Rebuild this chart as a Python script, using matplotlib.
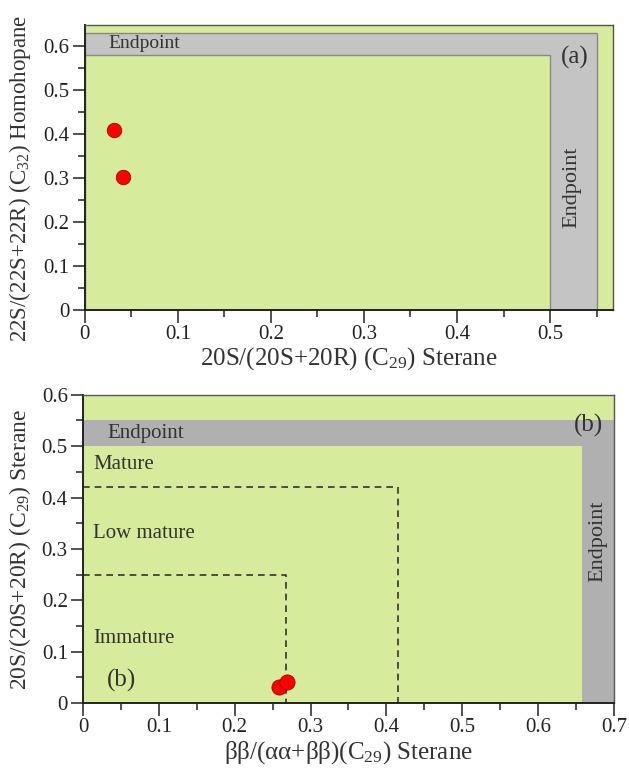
import matplotlib
matplotlib.use("Agg")
import matplotlib.pyplot as plt
from matplotlib.patches import Rectangle

# panel (a) data
a_x = [0.031, 0.041]
a_y = [0.408, 0.302]
# endpoint band of panel (a): inner corner and outer corner
a_inner = (0.50, 0.58)
a_outer = (0.55, 0.63)

# panel (b) data
b_x = [0.259, 0.269]
b_y = [0.032, 0.041]
b_inner = (0.658, 0.50)
b_outer = (0.70, 0.55)
# maturity limits (x, y) for dashed boxes
b_limits = [(0.268, 0.25), (0.415, 0.42)]
b_zones = ["Immature", "Low mature", "Mature"]
b_zone_y = [0.125, 0.33, 0.465]

GREEN = "#d6eb9b"
TXT = "#333333"

plt.rcParams["font.family"] = ["Liberation Serif", "DejaVu Serif"]
plt.rcParams["mathtext.fontset"] = "stix"

fig = plt.figure(figsize=(6.29, 7.71), dpi=100)
ax1 = fig.add_axes([0.135, 0.598, 0.840, 0.370])
ax2 = fig.add_axes([0.132, 0.088, 0.844, 0.400])


def style_axes(ax, xmax, ymax, xticks, yticks):
    ax.set_facecolor(GREEN)
    ax.set_xlim(0, xmax)
    ax.set_ylim(0, ymax)
    ax.set_xticks(xticks)
    ax.set_yticks(yticks)
    ax.set_xticklabels(["0" if t == 0 else f"{t:g}" for t in xticks])
    ax.set_yticklabels(["0" if t == 0 else f"{t:g}" for t in yticks])
    ax.set_xticks([t + 0.05 for t in xticks if t + 0.05 < xmax], minor=True)
    ax.set_yticks([t + 0.05 for t in yticks if t + 0.05 < ymax], minor=True)
    ax.tick_params(which="major", direction="out", length=9, width=1.2, pad=2,
                   labelsize=15, color="#333333", labelcolor="#222222")
    ax.tick_params(which="minor", direction="out", length=5, width=1.2, color="#333333")
    for s in ["left", "bottom"]:
        ax.spines[s].set_linewidth(1.4)
        ax.spines[s].set_color("#222222")
    for s in ["top", "right"]:
        ax.spines[s].set_linewidth(1.0)
        ax.spines[s].set_color("#555555")


# ---- panel (a)
style_axes(ax1, 0.568, 0.648, [0, 0.1, 0.2, 0.3, 0.4, 0.5], [0, 0.1, 0.2, 0.3, 0.4, 0.5, 0.6])
ax1.add_patch(Rectangle((0, 0), a_outer[0], a_outer[1], facecolor="#c4c4c4",
                        edgecolor="#888888", lw=1.0, zorder=1))
ax1.add_patch(Rectangle((0, 0), a_inner[0], a_inner[1], facecolor=GREEN,
                        edgecolor="#888888", lw=1.0, zorder=1))
ax1.scatter(a_x, a_y, s=110, c="red", edgecolors="#8b0000", linewidths=0.5, zorder=3)
ax1.text(0.025, 0.605, "Endpoint", fontsize=14, color=TXT, va="center")
ax1.text(0.5235, 0.278, "Endpoint", fontsize=16, color=TXT, va="center",
         ha="center", rotation=90)
ax1.text(0.527, 0.574, "(a)", fontsize=18, color=TXT, va="center", ha="center")
ax1.set_xlabel("20S/(20S+20R) (C$\\mathregular{_{29}}$) Sterane", fontsize=18,
               color=TXT, labelpad=1)
ax1.set_ylabel("22S/(22S+22R) (C$\\mathregular{_{32}}$) Homohopane", fontsize=16.5,
               color=TXT)
ax1.yaxis.set_label_coords(-0.098, 0.46)

# ---- panel (b)
style_axes(ax2, 0.70, 0.60, [0, 0.1, 0.2, 0.3, 0.4, 0.5, 0.6, 0.7],
           [0, 0.1, 0.2, 0.3, 0.4, 0.5, 0.6])
ax2.add_patch(Rectangle((0, 0), b_outer[0], b_outer[1], facecolor="#b0b0b0",
                        edgecolor="none", zorder=1))
ax2.add_patch(Rectangle((0, 0), b_inner[0], b_inner[1], facecolor=GREEN,
                        edgecolor="none", zorder=1))
for lx, ly in b_limits:
    ax2.plot([0, lx, lx], [ly, ly, 0], ls=(0, (4, 3)), color=TXT, lw=1.2, zorder=2)
for name, zy in zip(b_zones, b_zone_y):
    ax2.text(0.013, zy, name, fontsize=15, color=TXT, va="center")
ax2.scatter(b_x, b_y, s=120, c="red", edgecolors="#8b0000", linewidths=0.5, zorder=3)
ax2.text(0.032, 0.525, "Endpoint", fontsize=15, color=TXT, va="center")
ax2.text(0.6795, 0.315, "Endpoint", fontsize=16, color=TXT, va="center",
         ha="center", rotation=90)
ax2.text(0.667, 0.54, "(b)", fontsize=18, color=TXT, va="center", ha="center")
ax2.text(0.032, 0.045, "(b)", fontsize=18, color=TXT, va="center")
ax2.set_xlabel("ββ/(αα+ββ)(C$\\mathregular{_{29}}$) Sterane", fontsize=18,
               color=TXT, labelpad=1)
ax2.set_ylabel("20S/(20S+20R) (C$\\mathregular{_{29}}$) Sterane", fontsize=17,
               color=TXT)
ax2.yaxis.set_label_coords(-0.094, 0.5)

fig.savefig("out.png", dpi=100)
